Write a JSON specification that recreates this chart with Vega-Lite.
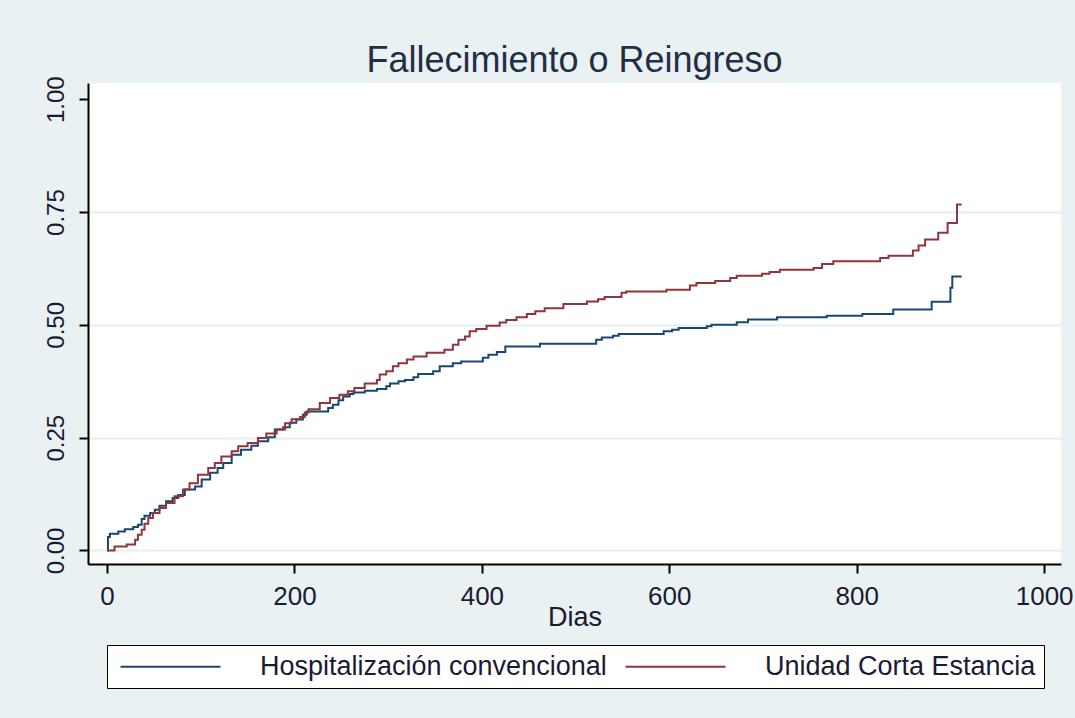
{
  "$schema": "https://vega.github.io/schema/vega-lite/v6.json",
  "width": 973,
  "height": 481,
  "autosize": {"type": "none"},
  "padding": {"left": 88, "top": 83, "right": 14, "bottom": 154},
  "background": "#EAF1F3",
  "title": {"text": "Fallecimiento o Reingreso", "fontSize": 36, "font": "Liberation Sans", "fontWeight": "normal", "color": "#1F2F45", "anchor": "middle", "offset": -4},
  "config": {"view": {"stroke": null, "fill": "white"}, "font": "Liberation Sans"},
  "datasets": {
    "km": [
      {"g": "Hospitalización convencional", "t": 0, "f": 0},
      {"g": "Hospitalización convencional", "t": 1, "f": 0.030},
      {"g": "Hospitalización convencional", "t": 3, "f": 0.037},
      {"g": "Hospitalización convencional", "t": 12, "f": 0.042},
      {"g": "Hospitalización convencional", "t": 19, "f": 0.047},
      {"g": "Hospitalización convencional", "t": 28, "f": 0.052},
      {"g": "Hospitalización convencional", "t": 33, "f": 0.057},
      {"g": "Hospitalización convencional", "t": 37, "f": 0.070},
      {"g": "Hospitalización convencional", "t": 40, "f": 0.077},
      {"g": "Hospitalización convencional", "t": 46, "f": 0.083},
      {"g": "Hospitalización convencional", "t": 51, "f": 0.090},
      {"g": "Hospitalización convencional", "t": 56, "f": 0.099},
      {"g": "Hospitalización convencional", "t": 63, "f": 0.109},
      {"g": "Hospitalización convencional", "t": 70, "f": 0.116},
      {"g": "Hospitalización convencional", "t": 76, "f": 0.123},
      {"g": "Hospitalización convencional", "t": 83, "f": 0.135},
      {"g": "Hospitalización convencional", "t": 94, "f": 0.142},
      {"g": "Hospitalización convencional", "t": 101, "f": 0.157},
      {"g": "Hospitalización convencional", "t": 110, "f": 0.172},
      {"g": "Hospitalización convencional", "t": 118, "f": 0.183},
      {"g": "Hospitalización convencional", "t": 124, "f": 0.194},
      {"g": "Hospitalización convencional", "t": 133, "f": 0.212},
      {"g": "Hospitalización convencional", "t": 143, "f": 0.223},
      {"g": "Hospitalización convencional", "t": 154, "f": 0.232},
      {"g": "Hospitalización convencional", "t": 161, "f": 0.242},
      {"g": "Hospitalización convencional", "t": 172, "f": 0.251},
      {"g": "Hospitalización convencional", "t": 179, "f": 0.268},
      {"g": "Hospitalización convencional", "t": 188, "f": 0.273},
      {"g": "Hospitalización convencional", "t": 195, "f": 0.283},
      {"g": "Hospitalización convencional", "t": 202, "f": 0.290},
      {"g": "Hospitalización convencional", "t": 209, "f": 0.301},
      {"g": "Hospitalización convencional", "t": 213, "f": 0.308},
      {"g": "Hospitalización convencional", "t": 236, "f": 0.316},
      {"g": "Hospitalización convencional", "t": 241, "f": 0.323},
      {"g": "Hospitalización convencional", "t": 247, "f": 0.333},
      {"g": "Hospitalización convencional", "t": 252, "f": 0.341},
      {"g": "Hospitalización convencional", "t": 259, "f": 0.347},
      {"g": "Hospitalización convencional", "t": 263, "f": 0.350},
      {"g": "Hospitalización convencional", "t": 275, "f": 0.354},
      {"g": "Hospitalización convencional", "t": 288, "f": 0.358},
      {"g": "Hospitalización convencional", "t": 298, "f": 0.364},
      {"g": "Hospitalización convencional", "t": 302, "f": 0.370},
      {"g": "Hospitalización convencional", "t": 311, "f": 0.375},
      {"g": "Hospitalización convencional", "t": 318, "f": 0.378},
      {"g": "Hospitalización convencional", "t": 327, "f": 0.384},
      {"g": "Hospitalización convencional", "t": 332, "f": 0.391},
      {"g": "Hospitalización convencional", "t": 348, "f": 0.397},
      {"g": "Hospitalización convencional", "t": 355, "f": 0.408},
      {"g": "Hospitalización convencional", "t": 369, "f": 0.415},
      {"g": "Hospitalización convencional", "t": 378, "f": 0.419},
      {"g": "Hospitalización convencional", "t": 401, "f": 0.427},
      {"g": "Hospitalización convencional", "t": 407, "f": 0.434},
      {"g": "Hospitalización convencional", "t": 416, "f": 0.440},
      {"g": "Hospitalización convencional", "t": 425, "f": 0.452},
      {"g": "Hospitalización convencional", "t": 462, "f": 0.458},
      {"g": "Hospitalización convencional", "t": 522, "f": 0.467},
      {"g": "Hospitalización convencional", "t": 528, "f": 0.472},
      {"g": "Hospitalización convencional", "t": 540, "f": 0.476},
      {"g": "Hospitalización convencional", "t": 546, "f": 0.480},
      {"g": "Hospitalización convencional", "t": 594, "f": 0.486},
      {"g": "Hospitalización convencional", "t": 603, "f": 0.489},
      {"g": "Hospitalización convencional", "t": 610, "f": 0.493},
      {"g": "Hospitalización convencional", "t": 640, "f": 0.497},
      {"g": "Hospitalización convencional", "t": 645, "f": 0.500},
      {"g": "Hospitalización convencional", "t": 672, "f": 0.506},
      {"g": "Hospitalización convencional", "t": 684, "f": 0.512},
      {"g": "Hospitalización convencional", "t": 715, "f": 0.517},
      {"g": "Hospitalización convencional", "t": 768, "f": 0.520},
      {"g": "Hospitalización convencional", "t": 806, "f": 0.524},
      {"g": "Hospitalización convencional", "t": 839, "f": 0.534},
      {"g": "Hospitalización convencional", "t": 880, "f": 0.551},
      {"g": "Hospitalización convencional", "t": 900, "f": 0.582},
      {"g": "Hospitalización convencional", "t": 902, "f": 0.607},
      {"g": "Hospitalización convencional", "t": 912, "f": 0.607},
      {"g": "Unidad Corta Estancia", "t": 0, "f": 0},
      {"g": "Unidad Corta Estancia", "t": 8, "f": 0.009},
      {"g": "Unidad Corta Estancia", "t": 21, "f": 0.013},
      {"g": "Unidad Corta Estancia", "t": 30, "f": 0.024},
      {"g": "Unidad Corta Estancia", "t": 33, "f": 0.035},
      {"g": "Unidad Corta Estancia", "t": 37, "f": 0.046},
      {"g": "Unidad Corta Estancia", "t": 40, "f": 0.059},
      {"g": "Unidad Corta Estancia", "t": 44, "f": 0.072},
      {"g": "Unidad Corta Estancia", "t": 49, "f": 0.083},
      {"g": "Unidad Corta Estancia", "t": 56, "f": 0.094},
      {"g": "Unidad Corta Estancia", "t": 63, "f": 0.105},
      {"g": "Unidad Corta Estancia", "t": 72, "f": 0.120},
      {"g": "Unidad Corta Estancia", "t": 81, "f": 0.135},
      {"g": "Unidad Corta Estancia", "t": 88, "f": 0.149},
      {"g": "Unidad Corta Estancia", "t": 97, "f": 0.168},
      {"g": "Unidad Corta Estancia", "t": 108, "f": 0.183},
      {"g": "Unidad Corta Estancia", "t": 115, "f": 0.194},
      {"g": "Unidad Corta Estancia", "t": 122, "f": 0.208},
      {"g": "Unidad Corta Estancia", "t": 133, "f": 0.220},
      {"g": "Unidad Corta Estancia", "t": 140, "f": 0.231},
      {"g": "Unidad Corta Estancia", "t": 150, "f": 0.238},
      {"g": "Unidad Corta Estancia", "t": 161, "f": 0.249},
      {"g": "Unidad Corta Estancia", "t": 170, "f": 0.259},
      {"g": "Unidad Corta Estancia", "t": 181, "f": 0.268},
      {"g": "Unidad Corta Estancia", "t": 190, "f": 0.282},
      {"g": "Unidad Corta Estancia", "t": 197, "f": 0.291},
      {"g": "Unidad Corta Estancia", "t": 206, "f": 0.296},
      {"g": "Unidad Corta Estancia", "t": 211, "f": 0.306},
      {"g": "Unidad Corta Estancia", "t": 215, "f": 0.313},
      {"g": "Unidad Corta Estancia", "t": 227, "f": 0.327},
      {"g": "Unidad Corta Estancia", "t": 238, "f": 0.338},
      {"g": "Unidad Corta Estancia", "t": 248, "f": 0.345},
      {"g": "Unidad Corta Estancia", "t": 257, "f": 0.353},
      {"g": "Unidad Corta Estancia", "t": 264, "f": 0.360},
      {"g": "Unidad Corta Estancia", "t": 275, "f": 0.370},
      {"g": "Unidad Corta Estancia", "t": 288, "f": 0.378},
      {"g": "Unidad Corta Estancia", "t": 291, "f": 0.390},
      {"g": "Unidad Corta Estancia", "t": 298, "f": 0.397},
      {"g": "Unidad Corta Estancia", "t": 305, "f": 0.408},
      {"g": "Unidad Corta Estancia", "t": 311, "f": 0.415},
      {"g": "Unidad Corta Estancia", "t": 320, "f": 0.423},
      {"g": "Unidad Corta Estancia", "t": 327, "f": 0.430},
      {"g": "Unidad Corta Estancia", "t": 341, "f": 0.438},
      {"g": "Unidad Corta Estancia", "t": 360, "f": 0.445},
      {"g": "Unidad Corta Estancia", "t": 369, "f": 0.456},
      {"g": "Unidad Corta Estancia", "t": 375, "f": 0.467},
      {"g": "Unidad Corta Estancia", "t": 382, "f": 0.474},
      {"g": "Unidad Corta Estancia", "t": 387, "f": 0.486},
      {"g": "Unidad Corta Estancia", "t": 394, "f": 0.491},
      {"g": "Unidad Corta Estancia", "t": 405, "f": 0.498},
      {"g": "Unidad Corta Estancia", "t": 419, "f": 0.505},
      {"g": "Unidad Corta Estancia", "t": 426, "f": 0.511},
      {"g": "Unidad Corta Estancia", "t": 437, "f": 0.517},
      {"g": "Unidad Corta Estancia", "t": 448, "f": 0.524},
      {"g": "Unidad Corta Estancia", "t": 457, "f": 0.530},
      {"g": "Unidad Corta Estancia", "t": 467, "f": 0.537},
      {"g": "Unidad Corta Estancia", "t": 487, "f": 0.546},
      {"g": "Unidad Corta Estancia", "t": 512, "f": 0.552},
      {"g": "Unidad Corta Estancia", "t": 524, "f": 0.557},
      {"g": "Unidad Corta Estancia", "t": 531, "f": 0.562},
      {"g": "Unidad Corta Estancia", "t": 549, "f": 0.571},
      {"g": "Unidad Corta Estancia", "t": 554, "f": 0.574},
      {"g": "Unidad Corta Estancia", "t": 597, "f": 0.578},
      {"g": "Unidad Corta Estancia", "t": 622, "f": 0.587},
      {"g": "Unidad Corta Estancia", "t": 629, "f": 0.593},
      {"g": "Unidad Corta Estancia", "t": 649, "f": 0.597},
      {"g": "Unidad Corta Estancia", "t": 665, "f": 0.604},
      {"g": "Unidad Corta Estancia", "t": 672, "f": 0.609},
      {"g": "Unidad Corta Estancia", "t": 699, "f": 0.613},
      {"g": "Unidad Corta Estancia", "t": 707, "f": 0.617},
      {"g": "Unidad Corta Estancia", "t": 718, "f": 0.622},
      {"g": "Unidad Corta Estancia", "t": 754, "f": 0.626},
      {"g": "Unidad Corta Estancia", "t": 763, "f": 0.635},
      {"g": "Unidad Corta Estancia", "t": 775, "f": 0.641},
      {"g": "Unidad Corta Estancia", "t": 825, "f": 0.648},
      {"g": "Unidad Corta Estancia", "t": 834, "f": 0.653},
      {"g": "Unidad Corta Estancia", "t": 860, "f": 0.665},
      {"g": "Unidad Corta Estancia", "t": 866, "f": 0.676},
      {"g": "Unidad Corta Estancia", "t": 873, "f": 0.689},
      {"g": "Unidad Corta Estancia", "t": 887, "f": 0.704},
      {"g": "Unidad Corta Estancia", "t": 897, "f": 0.726},
      {"g": "Unidad Corta Estancia", "t": 907, "f": 0.767},
      {"g": "Unidad Corta Estancia", "t": 912, "f": 0.767}
    ]
  },
  "data": {"name": "km"},
  "mark": {"type": "line", "interpolate": "step-after", "strokeWidth": 2},
  "encoding": {
    "x": {
      "field": "t", "type": "quantitative",
      "scale": {"domain": [-20.3, 1018], "nice": false, "zero": false},
      "axis": {
        "values": [0, 200, 400, 600, 800, 1000], "format": "d",
        "title": "Dias", "titleFontSize": 27, "titleFontWeight": "normal", "titleColor": "#1A1A33", "titlePadding": -5,
        "labelFontSize": 26, "labelColor": "#1A1A33", "labelPadding": 10, "labelFlush": false, "labelOverlap": false,
        "domainColor": "black", "domainWidth": 2, "tickColor": "black", "tickWidth": 2, "tickSize": 9,
        "grid": false
      }
    },
    "y": {
      "field": "f", "type": "quantitative",
      "scale": {"domain": [-0.030, 1.036], "nice": false, "zero": false},
      "axis": {
        "values": [0, 0.25, 0.5, 0.75, 1], "format": ".2f", "title": null,
        "labelAngle": 270, "labelAlign": "center", "labelBaseline": "bottom",
        "labelFontSize": 24, "labelColor": "#1A1A33", "labelPadding": 11, "labelFlush": false, "labelOverlap": false,
        "domainColor": "black", "domainWidth": 2, "tickColor": "black", "tickWidth": 2, "tickSize": 9,
        "grid": true, "gridWidth": 2,
        "gridColor": {"condition": {"test": "datum.value === 1", "value": "rgba(0,0,0,0)"}, "value": "#E6EEF1"}
      }
    },
    "color": {
      "field": "g", "type": "nominal",
      "scale": {"domain": ["Hospitalización convencional", "Unidad Corta Estancia"], "range": ["#1A476F", "#90353B"]},
      "legend": {
        "orient": "none", "legendX": 19, "legendY": 562, "direction": "horizontal", "title": null,
        "symbolType": "M-8,0H92", "symbolSize": 4, "symbolStrokeWidth": 2,
        "labelFontSize": 27, "labelColor": "#1A1A33", "labelOffset": 118, "labelLimit": 0,
        "columnPadding": 13, "padding": 8,
        "fillColor": "white", "strokeColor": "black"
      }
    }
  }
}
